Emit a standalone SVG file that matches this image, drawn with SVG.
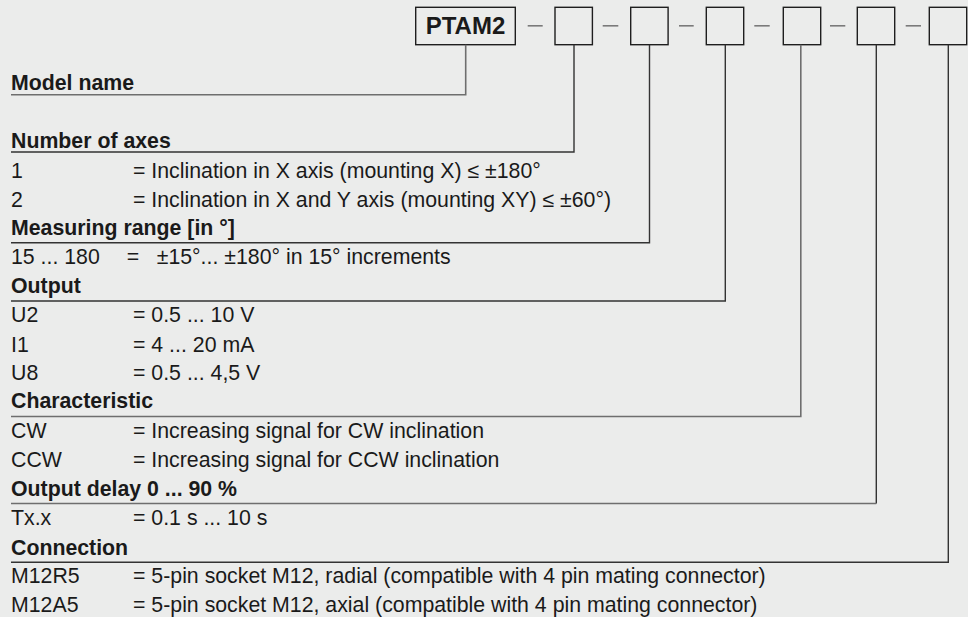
<svg xmlns="http://www.w3.org/2000/svg" width="968" height="617" viewBox="0 0 968 617">
<style>
text{font-family:"Liberation Sans",Arial,sans-serif;font-size:21.3px;fill:#1a1a1a}
.b{font-weight:bold}
.box{fill:none;stroke:#1e1e1e;stroke-width:1.4}
.dash{stroke:#7a7a7a;stroke-width:1.6}
.con{fill:none;stroke:#333;stroke-width:1.4}
.con2{fill:none;stroke:#6e6e6e;stroke-width:1.6}
</style>
<rect x="0" y="0" width="968" height="617" fill="#ebeceb"/>
<g id="code">
<g id="node-ptam2"><rect class="box" x="415.7" y="7.3" width="99.6" height="37.4"/><text class="b" x="465.5" y="34" text-anchor="middle" style="font-size:24px">PTAM2</text></g>
<line class="dash" x1="527.7" y1="25.8" x2="542.7" y2="25.8"/>
<g id="node-axes"><rect class="box" x="555" y="7.3" width="37.4" height="37.4"/></g>
<line class="dash" x1="602.7" y1="25.8" x2="618.3" y2="25.8"/>
<g id="node-range"><rect class="box" x="630.7" y="7.3" width="37.4" height="37.4"/></g>
<line class="dash" x1="679" y1="25.8" x2="693.7" y2="25.8"/>
<g id="node-output"><rect class="box" x="706.3" y="7.3" width="37.4" height="37.4"/></g>
<line class="dash" x1="754.3" y1="25.8" x2="769.7" y2="25.8"/>
<g id="node-char"><rect class="box" x="783.3" y="7.3" width="37.4" height="37.4"/></g>
<line class="dash" x1="830" y1="25.8" x2="845.3" y2="25.8"/>
<g id="node-delay"><rect class="box" x="857.3" y="7.3" width="37.4" height="37.4"/></g>
<line class="dash" x1="905.7" y1="25.8" x2="921" y2="25.8"/>
<g id="node-conn"><rect class="box" x="929.3" y="7.3" width="37.4" height="37.4"/></g>
</g>
<g id="connectors">
<polyline class="con2" points="465.7,44.7 465.7,94.7 11,94.7"/>
<polyline class="con" points="574,44.7 574,152 11,152"/>
<polyline class="con" points="649.5,44.7 649.5,242.7 11,242.7"/>
<polyline class="con" points="725.3,44.7 725.3,301 11,301"/>
<polyline class="con2" points="800.8,44.7 800.8,416.5 11,416.5"/>
<polyline class="con" points="876.3,44.7 876.3,503.5"/>
<line class="con2" x1="876.3" y1="503.5" x2="11" y2="503.5"/>
<polyline class="con" points="948.3,44.7 948.3,562.3 11,562.3"/>
</g>
<g id="sec-model"><text class="b" x="11" y="89.5">Model name</text></g>
<g id="sec-axes">
<text class="b" x="11" y="148.3">Number of axes</text>
<text x="11" y="177.7">1</text><text x="133" y="177.7">= Inclination in X axis (mounting X) ≤ ±180°</text>
<text x="11" y="206.7">2</text><text x="133" y="206.7">= Inclination in X and Y axis (mounting XY) ≤ ±60°)</text>
</g>
<g id="sec-range">
<text class="b" x="11" y="235">Measuring range [in °]</text>
<text x="11" y="264.3">15 ... 180</text><text x="126.7" y="264.3">=</text><text x="156.7" y="264.3">±15°... ±180° in 15° increments</text>
</g>
<g id="sec-output">
<text class="b" x="11" y="293.3">Output</text>
<text x="11" y="321.5">U2</text><text x="133" y="321.5">= 0.5 ... 10 V</text>
<text x="11" y="351.7">I1</text><text x="133" y="351.7">= 4 ... 20 mA</text>
<text x="11" y="380">U8</text><text x="133" y="380">= 0.5 ... 4,5 V</text>
</g>
<g id="sec-char">
<text class="b" x="11" y="408.3">Characteristic</text>
<text x="11" y="438.3">CW</text><text x="133" y="438.3">= Increasing signal for CW inclination</text>
<text x="11" y="466.7">CCW</text><text x="133" y="466.7">= Increasing signal for CCW inclination</text>
</g>
<g id="sec-delay">
<text class="b" x="11" y="496">Output delay 0 ... 90 %</text>
<text x="11" y="525">Tx.x</text><text x="133" y="525">= 0.1 s ... 10 s</text>
</g>
<g id="sec-conn">
<text class="b" x="11" y="555">Connection</text>
<text x="11" y="583.3">M12R5</text><text x="133" y="583.3">= 5-pin socket M12, radial (compatible with 4 pin mating connector)</text>
<text x="11" y="611.7">M12A5</text><text x="133" y="611.7">= 5-pin socket M12, axial (compatible with 4 pin mating connector)</text>
</g>
</svg>
